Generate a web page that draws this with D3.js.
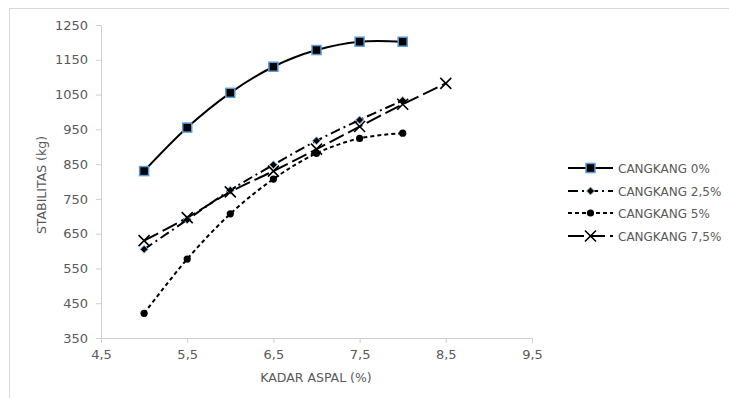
<!DOCTYPE html>
<html><head><meta charset="utf-8">
<script src="https://cdn.jsdelivr.net/npm/d3@7"></script>
<style>body{margin:0;background:#fff;}svg{display:block;font-family:"DejaVu Sans",sans-serif;}</style>
</head><body><svg id="c" width="729" height="398"></svg>
<script>
const xVals = [5, 5.5, 6, 6.5, 7, 7.5, 8];
const xVals75 = [5, 5.5, 6, 6.5, 7, 7.5, 8, 8.5];
const s0 = [830, 955, 1055, 1130, 1178, 1202, 1202];
const s25 = [605, 690, 775, 848, 917, 977, 1033];
const s5 = [421, 577, 707, 807, 881, 924, 939];
const s75 = [630, 696, 770, 830, 893, 958, 1022, 1082];
const seriesNames = ["CANGKANG 0%", "CANGKANG 2,5%", "CANGKANG 5%", "CANGKANG 7,5%"];
const xTicks = [4.5, 5.5, 6.5, 7.5, 8.5, 9.5];
const yTicks = [350, 450, 550, 650, 750, 850, 950, 1050, 1150, 1250];
const xTitle = "KADAR ASPAL (%)";
const yTitle = "STABILITAS (kg)";

const svg = d3.select("#c");
const txt = "#595959", axc = "#d0d0d0", blue = "#5b9bd5";
svg.append("rect").attr("x", 9.5).attr("y", 8.5).attr("width", 760).attr("height", 420)
  .attr("fill", "none").attr("stroke", "#d9d9d9");

const x = d3.scaleLinear().domain([4.5, 9.5]).range([101, 532]);
const y = d3.scaleLinear().domain([350, 1250]).range([338, 25]);

const fmt = d => String(d).replace(".", ",");
const gx = svg.append("g").attr("transform", "translate(0,338)")
  .call(d3.axisBottom(x).tickValues(xTicks).tickFormat(fmt).tickSize(5).tickPadding(7));
const gy = svg.append("g").attr("transform", "translate(101,0)")
  .call(d3.axisLeft(y).tickValues(yTicks).tickFormat(d => d).tickSize(5).tickPadding(8));
[gx, gy].forEach(g => {
  g.select(".domain").attr("stroke", axc);
  g.selectAll(".tick line").attr("stroke", axc);
  g.selectAll("text").attr("fill", txt).attr("font-size", 13).attr("font-family", "DejaVu Sans");
});

svg.append("text").attr("x", 316).attr("y", 382).attr("text-anchor", "middle")
  .attr("fill", txt).attr("font-size", 12.5).text(xTitle);
svg.append("text").attr("transform", "translate(46,185) rotate(-90)").attr("text-anchor", "middle")
  .attr("fill", txt).attr("font-size", 12.5).text(yTitle);

const line = d3.line().x(d => x(d[0])).y(d => y(d[1])).curve(d3.curveCardinal.tension(0));
const series = [
  {xs: xVals, ys: s0, dash: null, marker: "square"},
  {xs: xVals, ys: s25, dash: "10,4,2,4", marker: "diamond"},
  {xs: xVals, ys: s5, dash: "4,3", marker: "circle"},
  {xs: xVals75, ys: s75, dash: "16,5", marker: "x"}
];

function drawMarker(g, type, cx, cy) {
  if (type === "square") {
    g.append("rect").attr("x", cx - 4.5).attr("y", cy - 4.5).attr("width", 9).attr("height", 9)
      .attr("fill", "#000").attr("stroke", blue).attr("stroke-width", 1.5);
  } else if (type === "diamond") {
    g.append("path").attr("d", `M${cx},${cy-4}L${cx+4},${cy}L${cx},${cy+4}L${cx-4},${cy}Z`)
      .attr("fill", "#000").attr("stroke", "#9cc3e6").attr("stroke-width", 1);
  } else if (type === "circle") {
    g.append("circle").attr("cx", cx).attr("cy", cy).attr("r", 3.6).attr("fill", "#000");
  } else {
    g.append("path").attr("d", `M${cx-5.5},${cy-5.5}L${cx+5.5},${cy+5.5}M${cx-5.5},${cy+5.5}L${cx+5.5},${cy-5.5}`)
      .attr("stroke", "#000").attr("stroke-width", 1.6).attr("fill", "none");
  }
}

series.forEach(s => {
  const pts = s.xs.map((v, i) => [v, s.ys[i]]);
  svg.append("path").attr("d", line(pts)).attr("fill", "none").attr("stroke", "#000")
    .attr("stroke-width", 2).attr("stroke-dasharray", s.dash);
});
series.forEach(s => {
  const g = svg.append("g");
  s.xs.forEach((v, i) => drawMarker(g, s.marker, x(v), y(s.ys[i])));
});

// legend
const legY = [168, 191, 213, 236];
series.forEach((s, i) => {
  const g = svg.append("g");
  g.append("line").attr("x1", 568).attr("x2", 613).attr("y1", legY[i]).attr("y2", legY[i])
    .attr("stroke", "#000").attr("stroke-width", 2).attr("stroke-dasharray", s.dash);
  drawMarker(g, s.marker, 590.5, legY[i]);
  g.append("text").attr("x", 618).attr("y", legY[i] + 4.5).attr("fill", txt)
    .attr("font-size", 12).text(seriesNames[i]);
});
</script></body></html>
